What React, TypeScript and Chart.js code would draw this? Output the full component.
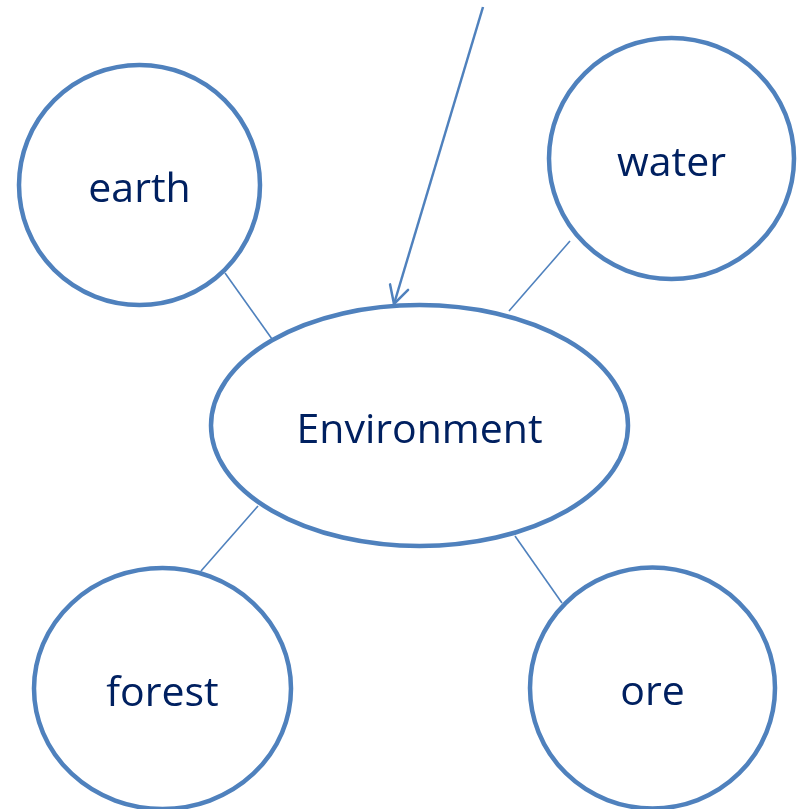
import React, { useEffect, useRef } from "react";
import { Chart, registerables } from "chart.js";

Chart.register(...registerables);

// Nodes (centre and radii in canvas data units)
const nodeLabels = ["earth", "water", "Environment", "forest", "ore"];
const nodeX = [139.5, 671.5, 419.5, 162.5, 652.5];
const nodeY = [185, 158.5, 425.5, 688.5, 688];
const nodeRX = [120.5, 122.5, 208.5, 128.5, 122.5];
const nodeRY = [120, 120.5, 120.5, 120.5, 120.5];

// Connector lines between satellites and the centre ellipse
const linkFromX = [225, 570, 258, 515];
const linkFromY = [273, 241, 506, 536];
const linkToX = [272, 509, 201, 562];
const linkToY = [339, 311, 571, 603];

// Incoming arrow
const arrowX = [483, 394];
const arrowY = [7, 304];

const STROKE = "#4f81bd";
const TEXT = "#002060";
const FONT = '41px "Open Sans", "Noto Sans", sans-serif';

const diagramPlugin = {
  id: "diagram",
  afterDatasetsDraw(chart: any) {
    const { ctx, scales } = chart;
    const sx = scales.x;
    const sy = scales.y;
    ctx.save();
    // Ellipses
    for (let i = 0; i < nodeLabels.length; i++) {
      const cx = sx.getPixelForValue(nodeX[i]);
      const cy = sy.getPixelForValue(nodeY[i]);
      const rx = Math.abs(sx.getPixelForValue(nodeX[i] + nodeRX[i]) - cx);
      const ry = Math.abs(sy.getPixelForValue(nodeY[i] + nodeRY[i]) - cy);
      ctx.beginPath();
      ctx.ellipse(cx, cy, rx, ry, 0, 0, Math.PI * 2);
      ctx.lineWidth = 4.5;
      ctx.strokeStyle = STROKE;
      ctx.stroke();
      ctx.font = FONT;
      ctx.fillStyle = TEXT;
      ctx.textAlign = "center";
      ctx.textBaseline = "alphabetic";
      ctx.fillText(nodeLabels[i], cx, cy + 17);
    }
    // Arrow head (open)
    const x0 = sx.getPixelForValue(arrowX[0]);
    const y0 = sy.getPixelForValue(arrowY[0]);
    const x1 = sx.getPixelForValue(arrowX[1]);
    const y1 = sy.getPixelForValue(arrowY[1]);
    const ang = Math.atan2(y0 - y1, x0 - x1);
    const len = 20;
    const spread = (28 * Math.PI) / 180;
    ctx.beginPath();
    ctx.moveTo(x1 + len * Math.cos(ang + spread), y1 + len * Math.sin(ang + spread));
    ctx.lineTo(x1, y1);
    ctx.lineTo(x1 + len * Math.cos(ang - spread), y1 + len * Math.sin(ang - spread));
    ctx.lineWidth = 2.5;
    ctx.strokeStyle = STROKE;
    ctx.lineCap = "round";
    ctx.lineJoin = "miter";
    ctx.stroke();
    ctx.restore();
  },
};

export default function App() {
  const ref = useRef<HTMLCanvasElement | null>(null);
  useEffect(() => {
    if (!ref.current) return;
    const datasets: any[] = linkFromX.map((_, i) => ({
      label: "link" + i,
      data: [
        { x: linkFromX[i], y: linkFromY[i] },
        { x: linkToX[i], y: linkToY[i] },
      ],
      showLine: true,
      borderColor: STROKE,
      borderWidth: 1.6,
      pointRadius: 0,
    }));
    datasets.push({
      label: "arrow",
      data: [
        { x: arrowX[0], y: arrowY[0] },
        { x: arrowX[1], y: arrowY[1] },
      ],
      showLine: true,
      borderColor: STROKE,
      borderWidth: 2.5,
      pointRadius: 0,
    });
    const chart = new Chart(ref.current, {
      type: "scatter",
      data: { datasets },
      options: {
        animation: false,
        responsive: true,
        maintainAspectRatio: false,
        layout: { padding: 0 },
        plugins: { legend: { display: false }, tooltip: { enabled: false } },
        scales: {
          x: { type: "linear", min: 0, max: 803, display: false },
          y: { type: "linear", min: 0, max: 809, reverse: true, display: false },
        },
      },
      plugins: [diagramPlugin],
    });
    return () => chart.destroy();
  }, []);
  return (
    <div
      style={{
        position: "fixed",
        left: 0,
        top: 0,
        width: 803,
        height: 809,
        background: "#ffffff",
      }}
    >
      <canvas ref={ref} />
    </div>
  );
}
